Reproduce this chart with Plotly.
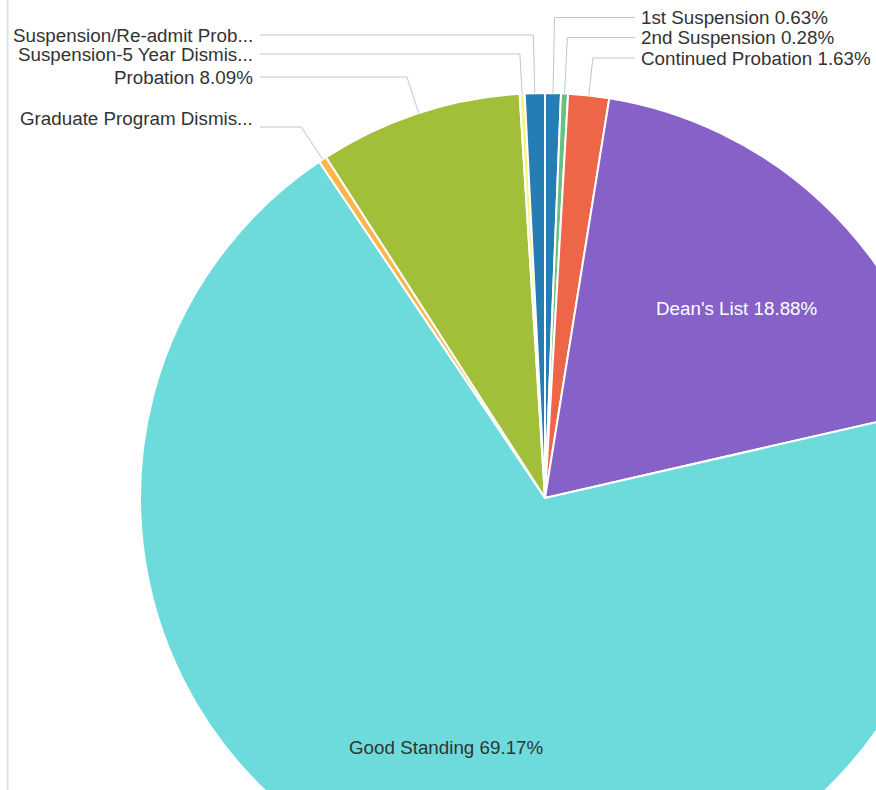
import math
import plotly.graph_objects as go

# ---------------- data ----------------
categories = ["1st Suspension", "2nd Suspension", "Continued Probation", "Dean's List",
              "Good Standing", "Graduate Program Dismissal", "Probation",
              "Suspension-5 Year Dismissal", "Suspension/Re-admit Probation"]
percentages = [0.63, 0.28, 1.63, 18.88, 69.17, 0.32, 8.09, 0.20, 0.80]
display_names = ["1st Suspension", "2nd Suspension", "Continued Probation", "Dean's List",
                 "Good Standing", "Graduate Program Dismis...", "Probation",
                 "Suspension-5 Year Dismis...", "Suspension/Re-admit Prob..."]
show_pct = [True, True, True, True, True, False, True, False, False]
colors = ["#267db3", "#68c182", "#ed6647", "#8561c8", "#6ddbdb",
          "#ffb54d", "#a2bf39", "#f7f37b", "#267db3"]

# ---------------- layout geometry (page pixels, body margin removed) ----------------
R = 405                  # pie radius
CX, CY = 545, 498        # pie centre on the page
FIG_W, FIG_H = 2 * CX, CY + R
TOP = CY - R
BORDER_X = 7.5           # thin container border on the left

FONT = "Liberation Sans, Arial, sans-serif"
FSIZE = 18.8
TEXT_COLOR = "#333333"
LEADER_COLOR = "#bcc6d4"

# outside label placement: side, text centre y, leader y
label_spots = {
    "1st Suspension": ("right", 17.5, 17.5),
    "2nd Suspension": ("right", 37.5, 37.5),
    "Continued Probation": ("right", 58, 58),
    "Suspension/Re-admit Probation": ("left", 35, 35),
    "Suspension-5 Year Dismissal": ("left", 54, 54),
    "Probation": ("left", 77, 77),
    "Graduate Program Dismissal": ("left", 118, 127),
}
# inside label placement
inside_spots = {
    "Dean's List": (737, 308, "#ffffff"),
    "Good Standing": (446, 747, TEXT_COLOR),
}
RIGHT_TEXT_X, RIGHT_LINE_X = 640, 635
LEFT_TEXT_X, LEFT_LINE_X = 254, 260


def to_paper(sx, sy):
    return sx / FIG_W, 1 - (sy - TOP) / (2 * R)


texts = [f"{n} {v:.2f}%" if s else n for n, v, s in zip(display_names, percentages, show_pct)]

fig = go.Figure(go.Pie(
    labels=categories, values=percentages, textinfo="none",
    sort=False, direction="clockwise", rotation=0,
    marker=dict(colors=colors, line=dict(color="#ffffff", width=2)),
    hoverinfo="label+percent", showlegend=False,
))

annotations = []
bx0, _ = to_paper(BORDER_X, 0)
shapes = [dict(type="line", xref="paper", yref="paper", x0=bx0, x1=bx0, y0=-0.2, y1=1.2,
               line=dict(color="#dde3ea", width=2))]

total = sum(percentages)
cum = 0.0
for cat, val, txt in zip(categories, percentages, texts):
    mid = (cum + val / 2) / total * 2 * math.pi
    cum += val
    s, c = math.sin(mid), math.cos(mid)
    if cat in label_spots:
        side, ty, ly = label_spots[cat]
        ex, ey = CX + R * s, CY - R * c
        t = (CY - ly) / c
        bx, by = CX + t * s, ly
        lx = RIGHT_LINE_X if side == "right" else LEFT_LINE_X
        pts = [to_paper(ex, ey), to_paper(bx, by), to_paper(lx, ly)]
        path = "M {} {} L {} {} L {} {}".format(*[f"{p:.5f}" for pt in pts for p in pt])
        shapes.append(dict(type="path", xref="paper", yref="paper", path=path,
                           line=dict(color=LEADER_COLOR, width=1)))
        tx = RIGHT_TEXT_X if side == "right" else LEFT_TEXT_X
        px, py = to_paper(tx, ty)
        annotations.append(dict(x=px, y=py, xref="paper", yref="paper", text=txt,
                                showarrow=False, xanchor="left" if side == "right" else "right",
                                yanchor="middle", borderpad=0,
                                font=dict(family=FONT, size=FSIZE, color=TEXT_COLOR)))
    elif cat in inside_spots:
        ix, iy, fc = inside_spots[cat]
        px, py = to_paper(ix, iy)
        annotations.append(dict(x=px, y=py, xref="paper", yref="paper", text=txt,
                                showarrow=False, xanchor="center", yanchor="middle",
                                font=dict(family=FONT, size=FSIZE, color=fc)))

fig.update_layout(
    width=FIG_W, height=FIG_H,
    margin=dict(l=0, r=0, t=TOP, b=0, autoexpand=False),
    paper_bgcolor="#ffffff",
    shapes=shapes, annotations=annotations,
)

fig.write_html("out.html", post_script="document.body.style.margin='0';document.documentElement.style.overflow='hidden';")
